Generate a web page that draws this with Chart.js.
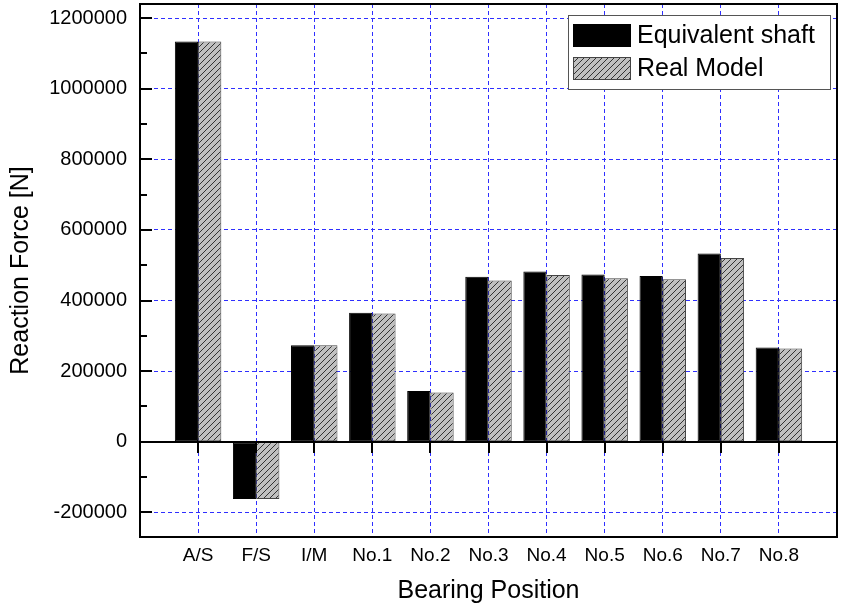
<!DOCTYPE html>
<html>
<head>
<meta charset="utf-8">
<script src="https://cdn.jsdelivr.net/npm/chart.js@4/dist/chart.umd.min.js"></script>
<style>
  html, body { margin: 0; padding: 0; background: #fff; }
  #wrap { width: 843px; height: 611px; }
</style>
</head>
<body>
<div id="wrap"><canvas id="reactionChart" width="843" height="611"></canvas></div>
<script>
// dados
const categories = ['A/S', 'F/S', 'I/M', 'No.1', 'No.2', 'No.3', 'No.4', 'No.5', 'No.6', 'No.7', 'No.8'];
const equivalentShaft = [1133500, -162000, 273500, 365000, 143500, 467000, 482000, 473500, 469600, 533000, 267000];
const realModel = [1133500, -162000, 273500, 363000, 139700, 457000, 472000, 463000, 460000, 520500, 264000];
const yTicks = [-200000, 0, 200000, 400000, 600000, 800000, 1000000, 1200000];
const yMinorTicks = [-100000, 100000, 300000, 500000, 700000, 900000, 1100000];

const FONT = '"Liberation Sans", Arial, sans-serif';
const GRID_BLUE = '#2f2fff';

// padrão hachurado da série "Real Model"
function makeHatch() {
    const c = document.createElement('canvas');
    c.width = 6; c.height = 6;
    const g = c.getContext('2d');
    g.fillStyle = '#c0c0c0';
    g.fillRect(0, 0, 6, 6);
    g.strokeStyle = '#333';
    g.lineWidth = 1;
    g.beginPath();
    g.moveTo(0, 6); g.lineTo(6, 0);
    g.moveTo(-1, 1); g.lineTo(1, -1);
    g.moveTo(5, 7); g.lineTo(7, 5);
    g.stroke();
    return g.createPattern(c, 'repeat');
}
const hatch = makeHatch();

const toPoints = arr => arr.map((v, i) => ({ x: i + 1, y: v }));

// moldura, linha do zero, ticks internos e legenda
const framePlugin = {
    id: 'frame',
    afterDatasetsDraw(chart) {
        const ctx = chart.ctx;
        const a = chart.chartArea;
        const ys = chart.scales.y, xs = chart.scales.x;
        const y0 = Math.round(ys.getPixelForValue(0));
        ctx.save();
        ctx.strokeStyle = '#000';
        ctx.lineWidth = 2;
        ctx.beginPath();
        ctx.moveTo(a.left, y0); ctx.lineTo(a.right, y0);
        yTicks.forEach(v => {
            const p = Math.round(ys.getPixelForValue(v));
            ctx.moveTo(a.left, p); ctx.lineTo(a.left + 12, p);
        });
        yMinorTicks.forEach(v => {
            const p = Math.round(ys.getPixelForValue(v));
            ctx.moveTo(a.left, p); ctx.lineTo(a.left + 7, p);
        });
        categories.forEach((c, i) => {
            const p = Math.round(xs.getPixelForValue(i + 1));
            ctx.moveTo(p, y0); ctx.lineTo(p, y0 + 11);
        });
        ctx.stroke();
        ctx.strokeRect(a.left, a.top, a.right - a.left, a.bottom - a.top);

        // legenda
        const lx = a.right - 269, ly = a.top + 11, lw = 262, lh = 74;
        ctx.fillStyle = '#fff';
        ctx.fillRect(lx, ly, lw, lh);
        ctx.lineWidth = 1;
        ctx.strokeStyle = '#555';
        ctx.strokeRect(lx + 0.5, ly + 0.5, lw, lh);
        ctx.font = '25px ' + FONT;
        ctx.textBaseline = 'middle';
        chart.data.datasets.forEach((ds, i) => {
            const sy = ly + 9 + i * 33;
            ctx.fillStyle = ds.backgroundColor;
            ctx.fillRect(lx + 5, sy, 58, 23);
            ctx.strokeStyle = ds.borderColor;
            ctx.strokeRect(lx + 5.5, sy + 0.5, 57, 22);
            ctx.fillStyle = '#000';
            ctx.fillText(ds.label, lx + 69, sy + 12);
        });
        ctx.restore();
    }
};

new Chart(document.getElementById('reactionChart'), {
    type: 'bar',
    data: {
        datasets: [{
            label: 'Equivalent shaft',
            data: toPoints(equivalentShaft),
            backgroundColor: '#000',
            borderColor: '#000',
            borderWidth: 1,
            borderSkipped: false
        }, {
            label: 'Real Model',
            data: toPoints(realModel),
            backgroundColor: hatch,
            borderColor: '#444',
            borderWidth: 1,
            borderSkipped: false
        }]
    },
    options: {
        responsive: false,
        animation: false,
        layout: { padding: { top: 4, right: 6, left: 0, bottom: 0 } },
        datasets: { bar: { categoryPercentage: 0.8, barPercentage: 1.0 } },
        plugins: {
            legend: { display: false },
            tooltip: { enabled: false }
        },
        scales: {
            x: {
                type: 'linear',
                min: 0,
                max: 12,
                offset: false,
                afterBuildTicks: s => { s.ticks = categories.map((c, i) => ({ value: i + 1 })); },
                afterFit: s => { s.height = 74; s.paddingLeft = 0; s.paddingRight = 0; },
                border: { display: false, dash: [4, 3] },
                grid: { color: GRID_BLUE, lineWidth: 1, drawTicks: false, offset: false },
                ticks: {
                    padding: 7,
                    color: '#000',
                    font: { family: FONT, size: 19 },
                    maxRotation: 0,
                    autoSkip: false,
                    callback: v => categories[v - 1]
                },
                title: {
                    display: true,
                    text: 'Bearing Position',
                    color: '#000',
                    font: { family: FONT, size: 25 },
                    padding: { top: 0, bottom: 5 }
                }
            },
            y: {
                min: -270000,
                max: 1240000,
                afterBuildTicks: s => { s.ticks = yTicks.map(v => ({ value: v })); },
                afterFit: s => { s.width = 140; s.paddingTop = 0; s.paddingBottom = 0; },
                border: { display: false, dash: [4, 3] },
                grid: { color: GRID_BLUE, lineWidth: 1, drawTicks: false },
                ticks: {
                    padding: 13,
                    color: '#000',
                    font: { family: FONT, size: 20 },
                    callback: v => String(v)
                },
                title: {
                    display: true,
                    text: 'Reaction Force [N]',
                    color: '#000',
                    font: { family: FONT, size: 25 },
                    padding: { top: 6, bottom: 0 }
                }
            }
        }
    },
    plugins: [framePlugin]
});
</script>
</body>
</html>
